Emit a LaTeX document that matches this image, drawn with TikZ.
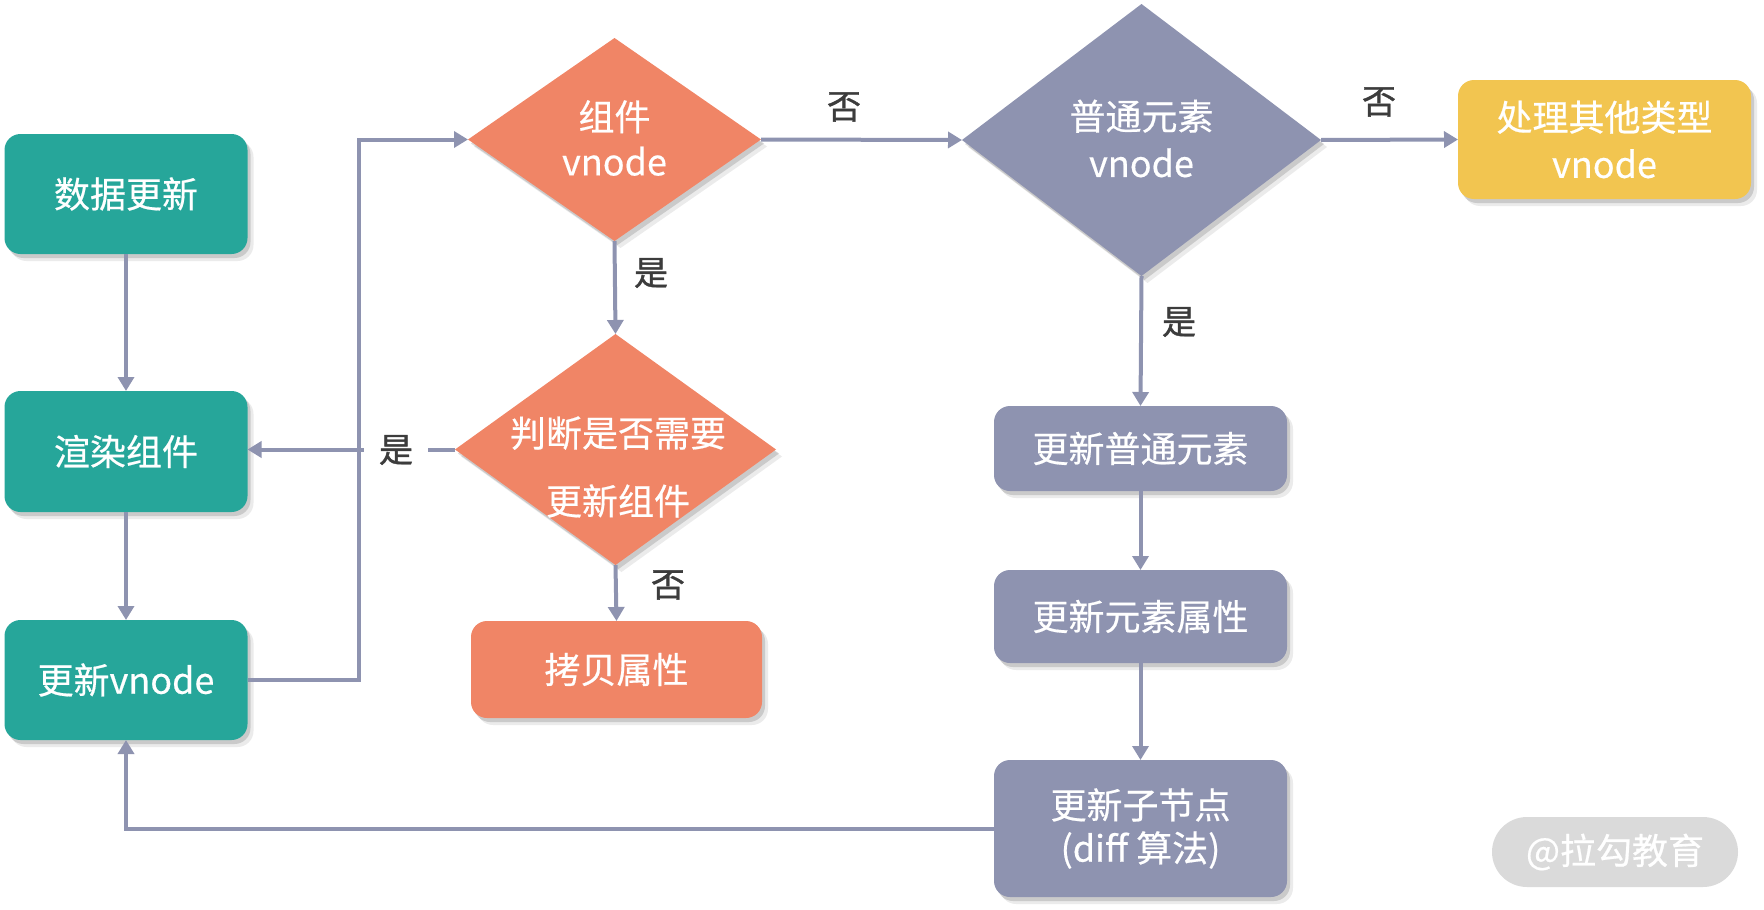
\documentclass[tikz,border=0pt]{standalone}
\usepackage{fontspec}
\setmainfont{Noto Sans CJK SC}[FakeBold=0.5]
\newfontfamily\lblfont{Noto Sans CJK SC}[FakeBold=1.2]
\usetikzlibrary{shapes.geometric,arrows.meta,shadows}
\definecolor{tealc}{HTML}{26A69A}
\definecolor{orangec}{HTML}{F08566}
\definecolor{purplec}{HTML}{8E93B0}
\definecolor{yellowc}{HTML}{F2C550}
\definecolor{linec}{HTML}{8E93B0}
\definecolor{labc}{HTML}{3C3C3C}
\definecolor{wmgray}{HTML}{DADADA}
\begin{document}
\begin{tikzpicture}[x=1pt,y=-1pt,
  softshadow/.style={drop shadow={shadow xshift=3pt,shadow yshift=-4pt,opacity=.14,fill=black},
                     drop shadow={shadow xshift=6pt,shadow yshift=-7pt,opacity=.08,fill=black}},
  box/.style={rectangle,rounded corners=16pt,inner sep=0pt,outer sep=0pt,text=white,
              font=\fontsize{36}{45}\selectfont,align=center,softshadow},
  dia/.style={diamond,inner sep=0pt,outer sep=0pt,softshadow},
  txt/.style={text=white,font=\fontsize{36}{45}\selectfont,align=center,inner sep=0pt},
  conn/.style={draw=linec,line width=4pt,-{Triangle[length=14pt,width=16pt]}},
  lbl/.style={text=labc,font=\lblfont\fontsize{34}{40}\selectfont,inner sep=2pt},
]
\useasboundingbox (0,0) rectangle (1764,910);

% left column
\node[box,fill=tealc,minimum width=243pt,minimum height=120pt] (n1) at (126,194) {数据更新};
\node[box,fill=tealc,minimum width=243pt,minimum height=121pt] (n2) at (126,451.5) {渲染组件};
\node[box,fill=tealc,minimum width=243pt,minimum height=120pt] (n3) at (126,680) {更新vnode};

% diamonds
\node[dia,fill=orangec,minimum width=293pt,minimum height=203pt] (d1) at (614.5,139.5) {};
\node[txt] (d1t) at (614.5,138) {组件\\vnode};
\node[dia,fill=orangec,minimum width=321pt,minimum height=231pt] (d2) at (615.5,449.5) {};
\node[txt,font=\fontsize{36}{68}\selectfont] (d2t) at (618,467) {判断是否需要\\更新组件};
\node[dia,fill=purplec,minimum width=359pt,minimum height=272pt] (d3) at (1141.5,140) {};
\node[txt,font=\fontsize{36}{47}\selectfont] (d3t) at (1141.5,138.5) {普通元素\\vnode};

% boxes
\node[box,fill=orangec,minimum width=291pt,minimum height=97pt] (b1) at (616.5,669.5) {拷贝属性};
\node[box,fill=yellowc,minimum width=293pt,minimum height=119pt,font=\fontsize{36}{47}\selectfont] (b2) at (1604.5,139.5) {处理其他类型\\vnode};
\node[box,fill=purplec,minimum width=293pt,minimum height=85pt] (b3) at (1140.5,448.5) {更新普通元素};
\node[box,fill=purplec,minimum width=293pt,minimum height=93pt] (b4) at (1140.5,616.5) {更新元素属性};
\node[box,fill=purplec,minimum width=293pt,minimum height=137pt,font=\fontsize{36}{43}\selectfont] (b5) at (1140.5,828.5) {更新子节点\\(diff 算法)};

% junction column
\coordinate (jx) at (359,0);

% connectors
\draw[conn] (n1.south) -- (n2.north);
\draw[conn] (n2.south) -- (n3.north);
\draw[conn] (n3.east) -- (n3.east -| jx) |- (d1.west);
\draw[conn] (d1.south) -- (d2.north);
\draw[conn] (d1.east) -- (d3.west);
\draw[conn] (d3.east) -- (b2.west);
\draw[conn] (d3.south) -- (b3.north);
\draw[conn] (b3.south) -- (b4.north);
\draw[conn] (b4.south) -- (b5.north);
\draw[conn] (d2.south) -- (b1.north);
\draw[conn] (d2.west) -- (d2.west -| n2.east);
\draw[conn] (b5.west) -| (n3.south);

% labels
\node[lbl] (l1) at (651,273) {是};
\node[lbl] (l2) at (844,107) {否};
\node[lbl] (l3) at (1379,102) {否};
\node[lbl] (l4) at (1179,322) {是};
\node[lbl,fill=white,minimum width=64pt] (l5) at (396,450) {是};
\node[lbl] (l6) at (668,585) {否};

% watermark
\node[rectangle,rounded corners=35pt,fill=wmgray,minimum width=246pt,minimum height=70pt,
      text=white,font=\fontsize{36}{40}\selectfont] (wm) at (1615,852) {@拉勾教育};
\end{tikzpicture}
\end{document}
